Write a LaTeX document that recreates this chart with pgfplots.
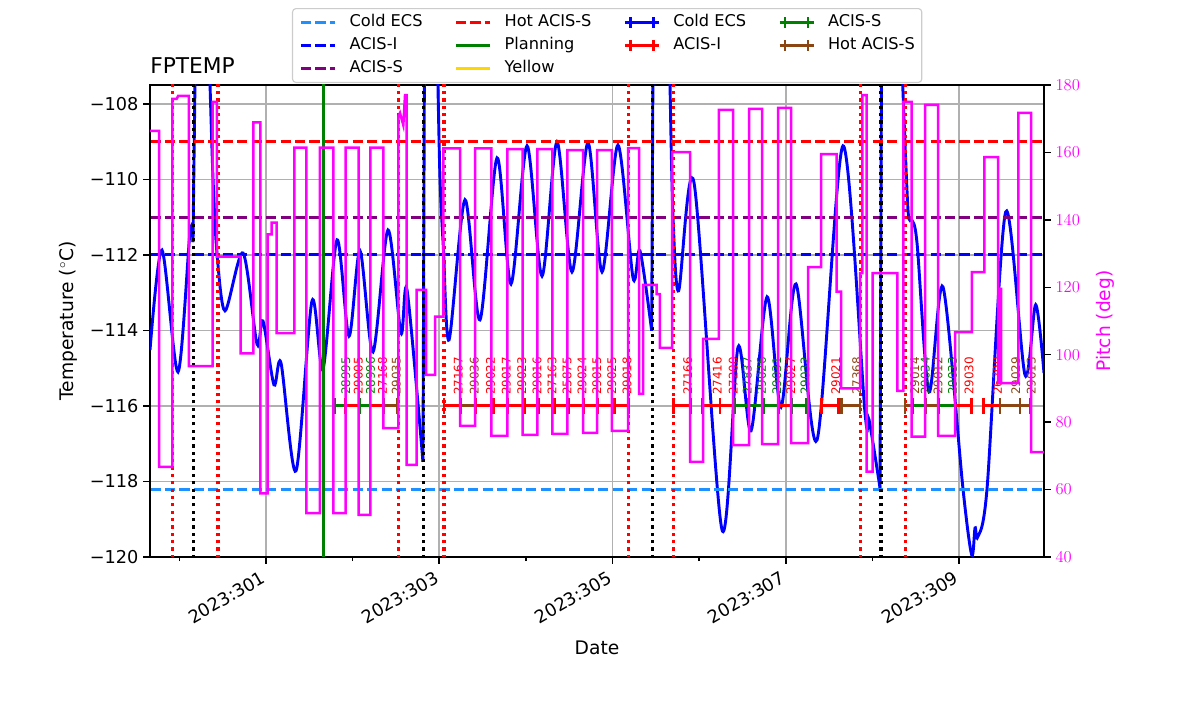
\documentclass[border=0pt]{standalone}
\usepackage{fontspec}
\setmainfont{DejaVu Sans}
\usepackage{pgfplots}
\pgfplotsset{compat=1.18}
\definecolor{dodgerblue}{RGB}{30,144,255}
\definecolor{mpurple}{RGB}{128,0,128}
\definecolor{mgreen}{RGB}{0,128,0}
\definecolor{gold}{RGB}{255,215,0}
\definecolor{sbrown}{RGB}{139,69,19}
\definecolor{mmag}{RGB}{255,0,255}
\definecolor{mblue}{RGB}{0,0,255}
\definecolor{mred}{RGB}{255,0,0}
\definecolor{gridgray}{RGB}{176,176,176}
\definecolor{leggray}{RGB}{204,204,204}
\pgfplotsset{
  legline/.style={legend image code/.code={\draw[##1] (0bp,0bp) -- (24.5bp,0bp);}},
  legeb/.style={legend image code/.code={\draw[##1] (0bp,0bp) -- (24.5bp,0bp); \draw[##1] (4bp,-3.8bp) -- (4bp,3.8bp) (20.5bp,-3.8bp) -- (20.5bp,3.8bp);}},
  dashl/.style={line width=2.2bp, dash pattern=on 7.3bp off 3.1bp},
  dotl/.style={line width=2.3bp, dash pattern=on 2.3bp off 3bp, forget plot},
  obs/.style={line width=2.1bp, mark=|, mark size=5.5bp, mark options={solid, line width=2bp}, forget plot},
}
\tikzset{obslab/.style={rotate=90, anchor=north west, inner sep=0pt, font=\fontsize{8.6}{10}\selectfont}}
\begin{document}
\begin{tikzpicture}
\path[use as bounding box] (0,0) rectangle (864bp,514.08bp);
\begin{axis}[
  at={(108bp,113.04bp)}, anchor=south west,
  scale only axis, width=643.68bp, height=339.84bp,
  xmin=299.661, xmax=309.981, ymin=-120, ymax=-107.5,
  xtick={301,303,305,307,309},
  xticklabels={2023:301,2023:303,2023:305,2023:307,2023:309},
  minor xtick={300,302,304,306,308},
  ytick={-120,-118,-116,-114,-112,-110,-108},
  yticklabels={−120,−118,−116,−114,−112,−110,−108},
  tick pos=left, tick align=outside,
  major tick length=4.8bp, minor tick length=3bp,
  every tick/.style={black, line width=1.1bp},
  axis line style={line width=1.3bp},
  grid=major, major grid style={gridgray, line width=1.1bp},
  ticklabel style={font=\fontsize{12.8}{15}\selectfont},
  xticklabel style={xshift=-3bp, rotate=30, anchor=north east},
  xlabel={Date},
  xlabel style={at={(axis description cs:0.5,-0.1928)}, anchor=center, font=\fontsize{13.5}{16}\selectfont},
  ylabel={Temperature ($^\circ$C)},
  every axis y label/.style={at={(axis description cs:-0.0917,0.5)}, rotate=90, anchor=center, font=\fontsize{13.5}{16}\selectfont},
  title={FPTEMP},
  every axis title/.style={at={(axis description cs:0,1.0254)}, anchor=base west, inner sep=0pt, font=\fontsize{15.7}{18}\selectfont},
  legend columns=4, legend cell align=left,
  legend style={at={(0.1588,1.0042)}, anchor=south west, draw=leggray, line width=0.8bp, rounded corners=2.5bp,
    fill=white, fill opacity=0.8, text opacity=1, font=\fontsize{11.7}{14}\selectfont,
    inner xsep=5bp, inner ysep=4.3bp, row sep=5.2bp,
    nodes={inner sep=0pt, text height=8.6bp, text depth=2.8bp},
    /tikz/every odd column/.append style={column sep=9.4bp},
    /tikz/every even column/.append style={column sep=23bp}},
]
% legend (row-wise order to mimic column-major layout)
\addlegendimage{legline, dodgerblue, dashl}\addlegendentry{Cold ECS}
\addlegendimage{legline, mred, dashl}\addlegendentry{Hot ACIS-S}
\addlegendimage{legeb, mblue, line width=2bp}\addlegendentry{Cold ECS}
\addlegendimage{legeb, mgreen, line width=2bp}\addlegendentry{ACIS-S}
\addlegendimage{legline, mblue, dashl}\addlegendentry{ACIS-I}
\addlegendimage{legline, mgreen, line width=2bp}\addlegendentry{Planning}
\addlegendimage{legeb, mred, line width=2bp}\addlegendentry{ACIS-I}
\addlegendimage{legeb, sbrown, line width=2bp}\addlegendentry{Hot ACIS-S}
\addlegendimage{legline, mpurple, dashl}\addlegendentry{ACIS-S}
\addlegendimage{legline, gold, line width=2bp}\addlegendentry{Yellow}
\addlegendimage{empty legend}\addlegendentry{}
\addlegendimage{empty legend}\addlegendentry{}

% temperature curve
\addplot[mblue, line width=2.1bp, smooth, forget plot] coordinates {(299.661,-114.52) (299.799,-111.87) (299.984,-115.10) (300.123,-111.39) (300.157,-111.66)};
\addplot[mblue, line width=2.1bp, forget plot] coordinates {(300.157,-111.66) (300.180,-107.5) (300.20,-104) (300.33,-104) (300.354,-107.5)};
\addplot[mblue, line width=2.1bp, smooth, forget plot] coordinates {(300.354,-107.50) (300.389,-110.01) (300.434,-111.95) (300.527,-113.48) (300.735,-111.95) (300.896,-114.36) (300.965,-113.75) (301.092,-115.44) (301.173,-114.86) (301.346,-117.72) (301.531,-113.22) (301.658,-115.02) (301.820,-111.60) (301.958,-114.15) (302.085,-111.89) (302.235,-114.57) (302.408,-111.34) (302.558,-114.07) (302.628,-112.93) (302.812,-117.48)};
\addplot[mblue, line width=2.1bp, forget plot] coordinates {(302.812,-117.48) (302.828,-107.5) (302.84,-104) (302.97,-104) (302.985,-107.5)};
\addplot[mblue, line width=2.1bp, smooth, forget plot] coordinates {(302.985,-107.50) (303.009,-110.01) (303.047,-111.79) (303.113,-114.25) (303.297,-110.54) (303.470,-113.72) (303.667,-109.43) (303.828,-112.77) (304.013,-109.11) (304.186,-112.56) (304.359,-109.01) (304.532,-112.45) (304.717,-109.03) (304.879,-112.45) (305.063,-109.09) (305.237,-112.61) (305.317,-111.89) (305.452,-114.01)};
\addplot[mblue, line width=2.1bp, forget plot] coordinates {(305.452,-114.01) (305.466,-107.5) (305.48,-104) (305.65,-104) (305.664,-107.5)};
\addplot[mblue, line width=2.1bp, smooth, forget plot] coordinates {(305.664,-107.50) (305.697,-110.89) (305.763,-112.95) (305.941,-110.09) (306.264,-119.28) (306.449,-114.44) (306.599,-116.66) (306.784,-113.11) (306.945,-116.03) (307.118,-112.77) (307.361,-116.90) (307.661,-109.11) (307.915,-116.19) (307.962,-116.37) (308.088,-118.17)};
\addplot[mblue, line width=2.1bp, forget plot] coordinates {(308.088,-118.17) (308.104,-107.5) (308.12,-104) (308.33,-104) (308.350,-107.5)};
\addplot[mblue, line width=2.1bp, smooth, forget plot] coordinates {(308.350,-107.50) (308.411,-110.81) (308.454,-111.07) (308.515,-111.68) (308.654,-115.63) (308.815,-112.85) (309.046,-118.20) (309.147,-119.95) (309.185,-119.23) (309.216,-119.47) (309.323,-118.20) (309.539,-110.86) (309.762,-115.18) (309.885,-113.32) (309.981,-115.13)};

% limit lines
\addplot[dodgerblue, dashl, forget plot] coordinates {(299,-118.2) (311,-118.2)};
\addplot[mblue, dashl, forget plot] coordinates {(299,-112) (311,-112)};
\addplot[mpurple, dashl, forget plot] coordinates {(299,-111) (311,-111)};
\addplot[mred, dashl, forget plot] coordinates {(299,-109) (311,-109)};

% vertical lines
\addplot[mred, dotl] coordinates {(299.922,-121) (299.922,-107)};
\addplot[mred, dotl] coordinates {(300.447,-121) (300.447,-107)};
\addplot[mred, dotl] coordinates {(302.526,-121) (302.526,-107)};
\addplot[mred, dotl] coordinates {(303.055,-121) (303.055,-107)};
\addplot[mred, dotl] coordinates {(305.185,-121) (305.185,-107)};
\addplot[mred, dotl] coordinates {(305.700,-121) (305.700,-107)};
\addplot[mred, dotl] coordinates {(307.861,-121) (307.861,-107)};
\addplot[mred, dotl] coordinates {(308.382,-121) (308.382,-107)};
\addplot[black, dotl] coordinates {(300.159,-121) (300.159,-107)};
\addplot[black, dotl] coordinates {(302.814,-121) (302.814,-107)};
\addplot[black, dotl] coordinates {(305.460,-121) (305.460,-107)};
\addplot[black, dotl] coordinates {(308.100,-121) (308.100,-107)};
\addplot[mgreen, line width=2bp, forget plot] coordinates {(301.660,-121) (301.660,-107)};

% observations
\addplot[mgreen, obs] coordinates {(301.789,-116) (301.920,-116)};
\addplot[mred, obs] coordinates {(301.920,-116) (302.077,-116)};
\addplot[mgreen, obs] coordinates {(302.077,-116) (302.201,-116)};
\addplot[mred, obs] coordinates {(302.201,-116) (302.354,-116)};
\addplot[sbrown, obs] coordinates {(302.354,-116) (302.520,-116)};
\addplot[mred, obs] coordinates {(303.055,-116) (303.248,-116)};
\addplot[sbrown, obs] coordinates {(303.248,-116) (303.424,-116)};
\addplot[mred, obs] coordinates {(303.424,-116) (303.624,-116)};
\addplot[mred, obs] coordinates {(303.624,-116) (303.790,-116)};
\addplot[mred, obs] coordinates {(303.790,-116) (303.982,-116)};
\addplot[mred, obs] coordinates {(303.982,-116) (304.143,-116)};
\addplot[mred, obs] coordinates {(304.143,-116) (304.328,-116)};
\addplot[mred, obs] coordinates {(304.328,-116) (304.490,-116)};
\addplot[mred, obs] coordinates {(304.490,-116) (304.671,-116)};
\addplot[mred, obs] coordinates {(304.671,-116) (304.829,-116)};
\addplot[mred, obs] coordinates {(304.829,-116) (305.021,-116)};
\addplot[mred, obs] coordinates {(305.021,-116) (305.182,-116)};
\addplot[mred, obs] coordinates {(305.702,-116) (305.903,-116)};
\addplot[mred, obs] coordinates {(306.041,-116) (306.241,-116)};
\addplot[mred, obs] coordinates {(306.241,-116) (306.414,-116)};
\addplot[mgreen, obs] coordinates {(306.414,-116) (306.564,-116)};
\addplot[mgreen, obs] coordinates {(306.564,-116) (306.741,-116)};
\addplot[mgreen, obs] coordinates {(306.741,-116) (306.914,-116)};
\addplot[mred, obs] coordinates {(306.914,-116) (307.069,-116)};
\addplot[mgreen, obs] coordinates {(307.069,-116) (307.242,-116)};
\addplot[mred, obs] coordinates {(307.415,-116) (307.607,-116)};
\addplot[sbrown, obs] coordinates {(307.646,-116) (307.857,-116)};
\addplot[sbrown, obs] coordinates {(308.377,-116) (308.469,-116)};
\addplot[mgreen, obs] coordinates {(308.469,-116) (308.619,-116)};
\addplot[sbrown, obs] coordinates {(308.619,-116) (308.763,-116)};
\addplot[mgreen, obs] coordinates {(308.763,-116) (308.954,-116)};
\addplot[mred, obs] coordinates {(308.954,-116) (309.144,-116)};
\addplot[mred, obs] coordinates {(309.280,-116) (309.473,-116)};
\addplot[sbrown, obs] coordinates {(309.473,-116) (309.704,-116)};
\addplot[sbrown, obs] coordinates {(309.704,-116) (309.828,-116)};

\node[obslab, mgreen] at (axis cs:301.866,-115.71) {28995};
\node[obslab, mred] at (axis cs:302.011,-115.71) {29005};
\node[obslab, mgreen] at (axis cs:302.151,-115.71) {28996};
\node[obslab, mred] at (axis cs:302.290,-115.71) {27168};
\node[obslab, sbrown] at (axis cs:302.449,-115.71) {29035};
\node[obslab, mred] at (axis cs:303.164,-115.71) {27167};
\node[obslab, sbrown] at (axis cs:303.348,-115.71) {29036};
\node[obslab, mred] at (axis cs:303.536,-115.71) {29022};
\node[obslab, mred] at (axis cs:303.719,-115.71) {29017};
\node[obslab, mred] at (axis cs:303.898,-115.71) {29023};
\node[obslab, mred] at (axis cs:304.075,-115.71) {29016};
\node[obslab, mred] at (axis cs:304.248,-115.71) {27163};
\node[obslab, mred] at (axis cs:304.421,-115.71) {25875};
\node[obslab, mred] at (axis cs:304.593,-115.71) {29024};
\node[obslab, mred] at (axis cs:304.762,-115.71) {29015};
\node[obslab, mred] at (axis cs:304.937,-115.71) {29025};
\node[obslab, mred] at (axis cs:305.114,-115.71) {29018};
\node[obslab, mred] at (axis cs:305.815,-115.71) {27166};
\node[obslab, mred] at (axis cs:306.153,-115.71) {27416};
\node[obslab, mred] at (axis cs:306.340,-115.71) {27200};
\node[obslab, mgreen] at (axis cs:306.501,-115.71) {27837};
\node[obslab, mgreen] at (axis cs:306.665,-115.71) {29026};
\node[obslab, mgreen] at (axis cs:306.840,-115.71) {29031};
\node[obslab, mred] at (axis cs:307.004,-115.71) {29027};
\node[obslab, mgreen] at (axis cs:307.168,-115.71) {29032};
\node[obslab, mred] at (axis cs:307.523,-115.71) {29021};
\node[obslab, sbrown] at (axis cs:307.764,-115.71) {27368};
\node[obslab, sbrown] at (axis cs:308.435,-115.71) {29014};
\node[obslab, mgreen] at (axis cs:308.556,-115.71) {29034};
\node[obslab, sbrown] at (axis cs:308.703,-115.71) {29012};
\node[obslab, mgreen] at (axis cs:308.871,-115.71) {29033};
\node[obslab, mred] at (axis cs:309.061,-115.71) {29030};
\node[obslab, mred] at (axis cs:309.389,-115.71) {26790};
\node[obslab, sbrown] at (axis cs:309.601,-115.71) {29029};
\node[obslab, sbrown] at (axis cs:309.778,-115.71) {29013};
\end{axis}

\begin{axis}[
  at={(108bp,113.04bp)}, anchor=south west,
  scale only axis, width=643.68bp, height=339.84bp,
  xmin=299.661, xmax=309.981, ymin=40, ymax=180,
  axis x line=none, axis y line*=right,
  y axis line style={-, line width=1.3bp},
  ytick={40,60,80,100,120,140,160,180},
  tick align=outside, major tick length=4.8bp,
  every tick/.style={black, line width=1.1bp},
  yticklabel style={mmag, font=\fontsize{12.8}{15}\selectfont},
  ylabel={Pitch (deg)},
  every axis y label/.style={at={(axis description cs:1.0682,0.5)}, rotate=90, anchor=center, mmag, font=\fontsize{13.5}{16}\selectfont},
]
\addplot[mmag, line width=1.8bp] coordinates {(299.661,166.4) (299.765,166.4) (299.765,66.7) (299.918,66.7) (299.918,175.9) (299.969,175.9) (299.987,176.8) (300.111,176.8) (300.111,96.6) (300.385,96.6) (300.385,175.0) (300.434,175.0) (300.434,129.1) (300.706,129.1) (300.706,100.4) (300.853,100.4) (300.853,168.9) (300.934,168.9) (300.934,58.9) (301.020,58.9) (301.020,135.7) (301.066,135.7) (301.066,139.2) (301.124,139.2) (301.124,106.4) (301.327,106.4) (301.327,161.4) (301.465,161.4) (301.465,53.0) (301.623,53.0) (301.623,161.4) (301.777,161.4) (301.777,53.0) (301.918,53.0) (301.918,161.4) (302.068,161.4) (302.068,52.5) (302.204,52.5) (302.204,161.4) (302.354,161.4) (302.354,78.2) (302.527,78.2) (302.527,170.6) (302.547,171.7) (302.585,168.1) (302.605,177.0) (302.624,177.0) (302.624,67.3) (302.740,67.3) (302.740,119.2) (302.847,119.2) (302.847,94.0) (302.951,94.0) (302.951,111.3) (303.047,111.3) (303.047,161.2) (303.240,161.2) (303.240,78.9) (303.413,78.9) (303.413,161.2) (303.603,161.2) (303.603,75.9) (303.786,75.9) (303.786,161.0) (303.961,161.0) (303.961,76.2) (304.132,76.2) (304.132,161.0) (304.307,161.0) (304.307,76.5) (304.478,76.5) (304.478,160.7) (304.660,160.7) (304.660,76.8) (304.821,76.8) (304.821,160.7) (304.994,160.7) (304.994,77.4) (305.179,77.4) (305.179,161.3) (305.306,161.3) (305.306,88.4) (305.352,88.4) (305.352,120.7) (305.509,120.7) (305.509,118.0) (305.548,118.0) (305.548,102.0) (305.687,102.0) (305.687,160.1) (305.895,160.1) (305.895,68.2) (306.045,68.2) (306.045,104.7) (306.229,104.7) (306.229,172.6) (306.391,172.6) (306.391,73.2) (306.576,73.2) (306.576,172.9) (306.726,172.9) (306.726,73.5) (306.911,73.5) (306.911,173.2) (307.061,173.2) (307.061,73.8) (307.257,73.8) (307.257,126.0) (307.407,126.0) (307.407,159.5) (307.588,159.5) (307.588,118.7) (307.638,118.7) (307.638,90.0) (307.857,90.0) (307.857,124.2) (307.883,124.2) (307.883,177.0) (307.934,177.0) (307.934,65.3) (308.004,65.3) (308.004,124.2) (308.288,124.2) (308.288,89.3) (308.357,89.3) (308.357,175.0) (308.454,175.0) (308.454,75.7) (308.608,75.7) (308.608,174.1) (308.758,174.1) (308.758,75.9) (308.954,75.9) (308.954,106.7) (309.147,106.7) (309.147,124.5) (309.294,124.5) (309.294,158.6) (309.450,158.6) (309.450,91.6) (309.473,91.6) (309.473,119.5) (309.485,119.5) (309.485,91.6) (309.685,91.6) (309.685,171.7) (309.831,171.7) (309.831,71.1) (309.981,71.1)};
\end{axis}
\end{tikzpicture}
\end{document}
